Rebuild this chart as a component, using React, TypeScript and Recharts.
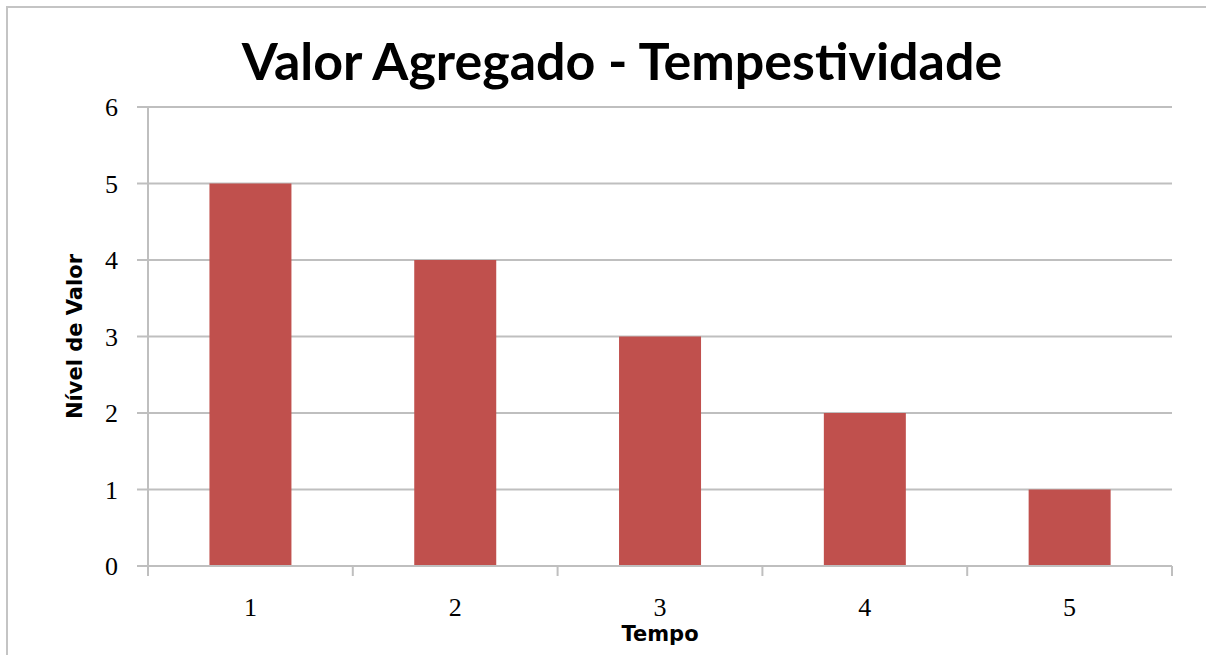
import { BarChart, Bar, XAxis, YAxis, CartesianGrid, Label } from "recharts";

const categories = ["1", "2", "3", "4", "5"];
const nivelValues = [5, 4, 3, 2, 1];
const yTicks = [0, 1, 2, 3, 4, 5, 6];

const data = categories.map((c, i) => ({ tempo: c, nivel: nivelValues[i] }));

const gridColor = "#bfbfbf";
const tickFont = "'Liberation Serif', serif";
const boldFont = "'DejaVu Sans', sans-serif";

// x tick: label centred on the category plus the tick marks at the category edges
function TempoTick(props: any) {
  const { x, y, payload, index, visibleTicksCount } = props;
  const half = payload?.offset ?? 0;
  const axisY = y - 30;
  const last = index === visibleTicksCount - 1;
  return (
    <g>
      <line x1={x - half} x2={x - half} y1={axisY} y2={axisY + 10} stroke={gridColor} strokeWidth={2} />
      {last && (
        <line x1={x + half} x2={x + half} y1={axisY} y2={axisY + 10} stroke={gridColor} strokeWidth={2} />
      )}
      <text x={x} y={axisY + 50} textAnchor="middle" fontFamily={tickFont} fontSize={26} fill="#000">
        {payload.value}
      </text>
    </g>
  );
}

export default function App() {
  return (
    <div
      style={{
        position: "absolute",
        left: 0,
        top: 0,
        width: 1206,
        height: 655,
        background: "#fff",
        overflow: "hidden",
      }}
    >
      <div
        style={{
          position: "absolute",
          left: 6,
          top: 6,
          width: 1220,
          height: 680,
          border: "2px solid #c4c4c4",
        }}
      />
      <div
        style={{
          position: "absolute",
          left: 0,
          top: 30,
          width: 1244,
          textAlign: "center",
          fontFamily: "Lato, sans-serif",
          fontWeight: 700,
          fontSize: 52,
          lineHeight: "60px",
          color: "#000",
        }}
      >
        Valor Agregado - Tempestividade
      </div>
      <BarChart
        width={1206}
        height={655}
        data={data}
        barCategoryGap="30%"
        margin={{ top: 107, right: 34, bottom: 0, left: 0 }}
        style={{ position: "absolute", left: 0, top: 0 }}
      >
        <CartesianGrid vertical={false} stroke={gridColor} strokeWidth={2} />
        <XAxis
          dataKey="tempo"
          height={89}
          tickLine={false}
          tickSize={10}
          tickMargin={20}
          axisLine={{ stroke: gridColor, strokeWidth: 2 }}
          tick={<TempoTick />}
          interval={0}
        >
          <Label
            value="Tempo"
            position="insideBottom"
            offset={14}
            style={{ fontFamily: boldFont, fontWeight: 700, fontSize: 21, fill: "#000" }}
          />
        </XAxis>
        <YAxis
          width={148}
          domain={[0, 6]}
          ticks={yTicks}
          interval={0}
          tickSize={11}
          tickMargin={19}
          tickLine={{ stroke: gridColor, strokeWidth: 2 }}
          axisLine={{ stroke: gridColor, strokeWidth: 2 }}
          tick={{ fontFamily: tickFont, fontSize: 26, fill: "#000" }}
        >
          <Label
            value="Nível de Valor"
            angle={-90}
            position="insideLeft"
            offset={75}
            style={{ textAnchor: "middle", fontFamily: boldFont, fontWeight: 700, fontSize: 21, fill: "#000" }}
          />
        </YAxis>
        <Bar dataKey="nivel" fill="#c0504d" isAnimationActive={false} />
      </BarChart>
    </div>
  );
}
